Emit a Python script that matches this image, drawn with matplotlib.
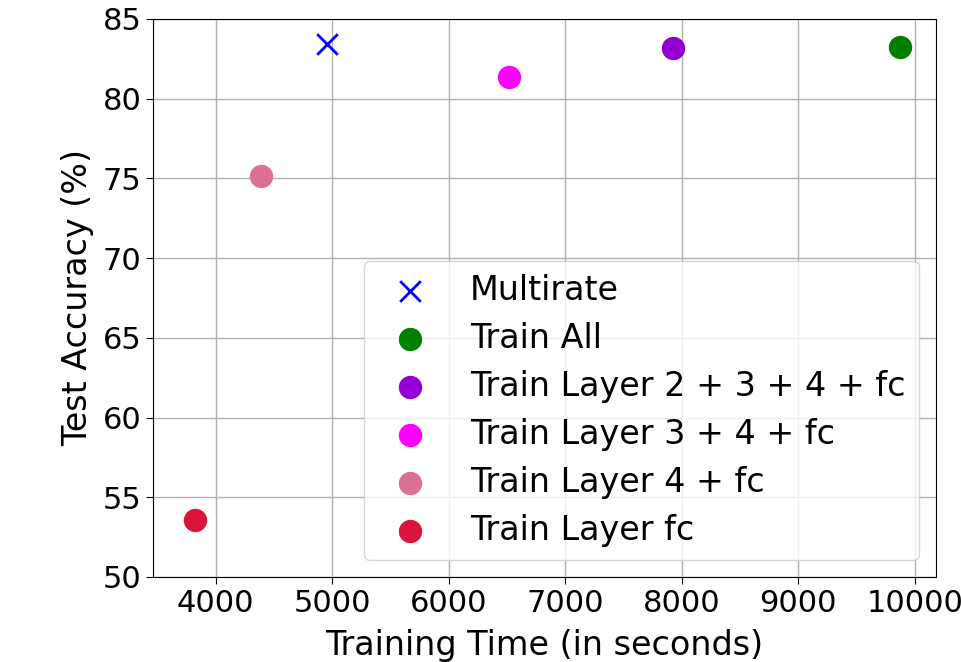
import matplotlib
matplotlib.use("Agg")
import matplotlib.pyplot as plt

# training time (s) and test accuracy (%) per method
labels = ["Multirate", "Train All", "Train Layer 2 + 3 + 4 + fc",
          "Train Layer 3 + 4 + fc", "Train Layer 4 + fc", "Train Layer fc"]
times = [4953, 9873, 7922, 6516, 4389, 3822]
accs = [83.41, 83.22, 83.16, 81.34, 75.13, 53.57]
colors = ["blue", "green", "darkviolet", "magenta", "palevioletred", "crimson"]
markers = ["x", "o", "o", "o", "o", "o"]

fig = plt.figure(figsize=(9.61, 6.62), dpi=100)
ax = fig.add_axes([153.3 / 961, 85 / 662, 782.4 / 961, 558 / 662])

for t, a, c, m, lab in zip(times, accs, colors, markers, labels):
    if m == "x":
        ax.scatter(t, a, c=c, marker=m, s=220, linewidths=2, label=lab, zorder=3)
    else:
        ax.scatter(t, a, c=c, marker=m, s=250, label=lab, zorder=3)

ax.set_xlim(3464, 10180)
ax.set_ylim(50, 85)
ax.set_xticks([4000, 5000, 6000, 7000, 8000, 9000, 10000])
ax.set_yticks([50, 55, 60, 65, 70, 75, 80, 85])
ax.grid(True, color="#b0b0b0", linewidth=1)
ax.set_axisbelow(True)
ax.tick_params(labelsize=22, length=5)
ax.set_xlabel("Training Time (in seconds)", fontsize=24, labelpad=8)
ax.set_ylabel("Test Accuracy (%)", fontsize=24, labelpad=6)
ax.legend(loc="lower right", fontsize=24, labelspacing=0.45)

fig.savefig("out.png", dpi=100)
